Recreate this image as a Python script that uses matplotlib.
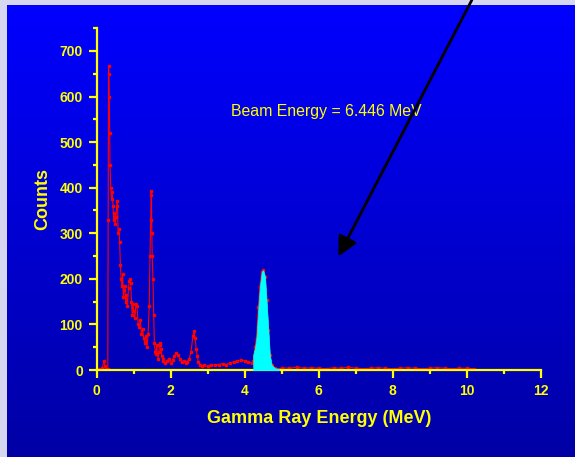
import numpy as np
import matplotlib
matplotlib.use("Agg")
from matplotlib import pyplot as plt
from matplotlib.ticker import MultipleLocator

plt.rcParams['font.family'] = ['Liberation Sans', 'DejaVu Sans']

# spectrum (energy in MeV, counts)
energy = [0.00, 0.05, 0.10, 0.15, 0.20, 0.22, 0.25, 0.29, 0.30, 0.31, 0.32, 0.33,
          0.34, 0.35, 0.36, 0.38, 0.40, 0.42, 0.44, 0.46, 0.48, 0.50, 0.52, 0.54,
          0.56, 0.58, 0.60, 0.62, 0.64, 0.66, 0.68, 0.70, 0.72, 0.74, 0.76, 0.78,
          0.80, 0.83, 0.86, 0.88, 0.90, 0.92, 0.94, 0.96, 0.98, 1.00, 1.03, 1.06,
          1.09, 1.12, 1.15, 1.18, 1.21, 1.24, 1.27, 1.30, 1.33, 1.36, 1.39, 1.42,
          1.44, 1.46, 1.47, 1.48, 1.49, 1.50, 1.52, 1.54, 1.56, 1.58, 1.60, 1.62,
          1.64, 1.66, 1.68, 1.70, 1.72, 1.74, 1.76, 1.78, 1.80, 1.85, 1.90, 1.95,
          2.00, 2.05, 2.10, 2.15, 2.20, 2.25, 2.30, 2.35, 2.40, 2.45, 2.50, 2.55,
          2.60, 2.63, 2.66, 2.69, 2.72, 2.75, 2.80, 2.85, 2.90, 3.00, 3.10, 3.20,
          3.30, 3.40, 3.50, 3.60, 3.70, 3.80, 3.90, 4.00, 4.10, 4.20, 4.23, 4.28,
          4.32, 4.37, 4.41, 4.46, 4.50, 4.55, 4.59, 4.64, 4.68, 4.73, 4.82, 4.93,
          5.0, 5.2, 5.4, 5.6, 5.8, 6.0, 6.2, 6.4, 6.6, 6.8, 7.0, 7.2,
          7.4, 7.6, 7.8, 8.0, 8.2, 8.4, 8.6, 8.8, 9.0, 9.2, 9.4, 9.6,
          9.8, 10.0, 10.2]
counts = [2, 3, 2, 5, 20, 8, 3, 2, 2, 330, 668, 650,
          600, 520, 450, 400, 375, 390, 360, 330, 345, 320, 335, 360,
          370, 300, 310, 280, 230, 200, 185, 210, 160, 175, 185, 150,
          165, 140, 180, 195, 200, 190, 150, 120, 145, 130, 115, 145,
          140, 100, 95, 110, 80, 90, 70, 60, 75, 50, 80, 140,
          250, 330, 392, 385, 300, 250, 200, 120, 60, 40, 35, 55,
          35, 25, 40, 55, 60, 45, 30, 25, 20, 15, 20, 25,
          15, 22, 30, 38, 32, 25, 18, 20, 15, 18, 25, 40,
          75, 85, 70, 45, 30, 18, 12, 8, 10, 8, 12, 10,
          12, 14, 12, 15, 18, 20, 22, 20, 18, 15, 20, 50,
          73, 139, 183, 216, 219, 205, 154, 88, 33, 11, 4, 2,
          5, 4, 6, 4, 5, 4, 3, 5, 4, 6, 4, 3,
          4, 5, 4, 3, 4, 5, 4, 3, 4, 5, 4, 3,
          4, 4, 3]

# full-energy peak (filled)
peak_e = [4.23, 4.23, 4.28, 4.32, 4.37, 4.41, 4.46, 4.50, 4.55, 4.59, 4.64, 4.68, 4.73, 4.82, 4.93]
peak_c = [0, 33, 50, 73, 139, 183, 216, 219, 205, 154, 88, 33, 11, 4, 2]

yellow = '#ffff00'

fig = plt.figure(figsize=(5.75, 4.57), dpi=100)
fig.patch.set_facecolor('#d6d6f0')

# blue gradient backdrop
bg = fig.add_axes([7 / 575, 0, 568 / 575, 452 / 457])
grad = np.linspace(1, 0, 256).reshape(-1, 1)
cols = np.zeros((256, 1, 3))
cols[:, 0, 2] = (165 + 90 * grad[:, 0]) / 255
bg.imshow(cols, aspect='auto', extent=[0, 1, 0, 1])
bg.axis('off')

ax = fig.add_axes([96.7 / 575, 87 / 457, 444 / 575, 341.8 / 457])
ax.patch.set_alpha(0)

ax.plot(energy, counts, color='red', lw=0.8, marker='s', ms=1.8, mec='red', mfc='red', zorder=2)
ax.fill_between(peak_e, peak_c, color='cyan', lw=0.5, ec='cyan', zorder=3)

ax.set_xlim(0, 12)
ax.set_ylim(0, 750)
ax.xaxis.set_major_locator(MultipleLocator(2))
ax.xaxis.set_minor_locator(MultipleLocator(1))
ax.set_yticks([0, 100, 200, 300, 400, 500, 600, 700])
ax.set_yticks([50, 150, 250, 350, 450, 550, 650, 750], minor=True)

for s in ['top', 'right']:
    ax.spines[s].set_visible(False)
for s in ['left', 'bottom']:
    ax.spines[s].set_color(yellow)
    ax.spines[s].set_linewidth(1.6)
ax.tick_params(which='both', colors=yellow, width=1.6, direction='out')
ax.tick_params(which='major', length=6, labelsize=10, pad=4)
ax.tick_params(which='minor', length=3)
for lab in ax.get_xticklabels() + ax.get_yticklabels():
    lab.set_fontweight('bold')

ax.set_xlabel('Gamma Ray Energy (MeV)', color=yellow, fontsize=13, fontweight='bold', labelpad=9)
ax.set_ylabel('Counts', color=yellow, fontsize=13, fontweight='bold', labelpad=6)

ax.text(6.2, 568, 'Beam Energy = 6.446 MeV', color=yellow, fontsize=11.4,
        ha='center', va='center')

ax.annotate('', xy=(6.53, 249), xytext=(10.14, 812), annotation_clip=False,
            arrowprops=dict(arrowstyle='-|>,head_length=0.8,head_width=0.4',
                            fc='black', ec='black', lw=2, mutation_scale=15,
                            shrinkA=0, shrinkB=0))

fig.savefig('out.png', dpi=100, facecolor=fig.get_facecolor())
